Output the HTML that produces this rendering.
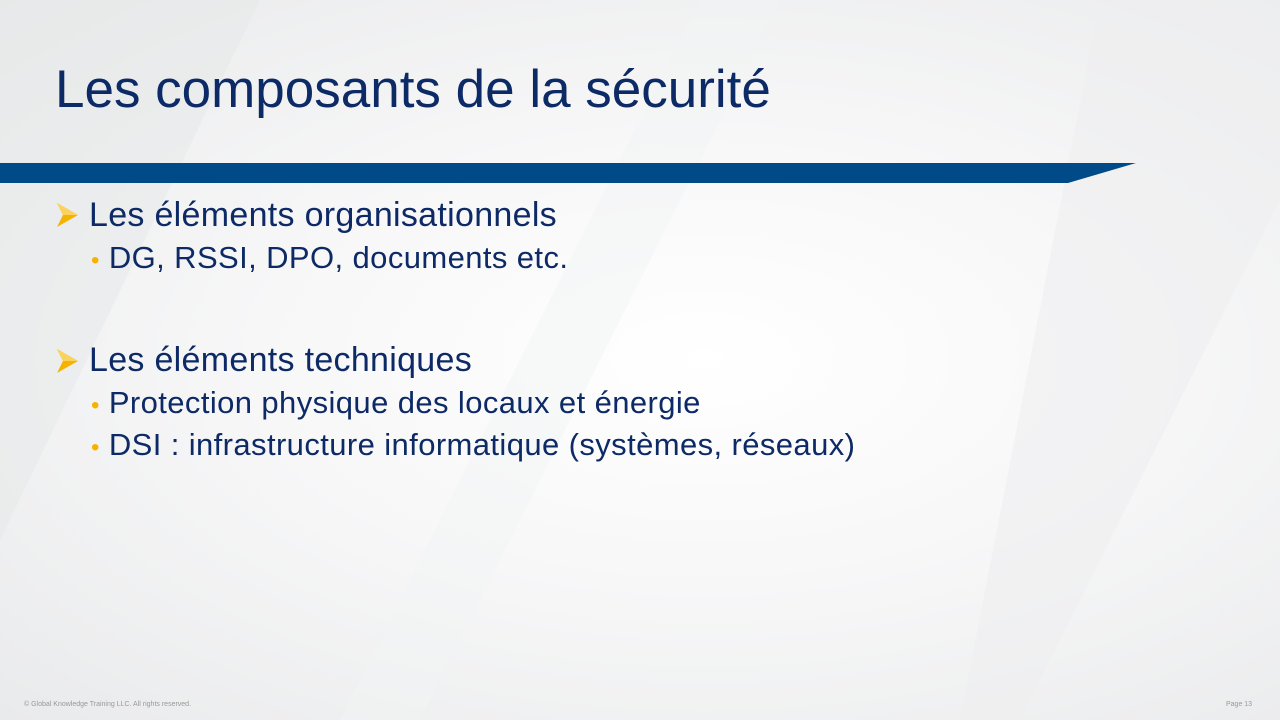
<!DOCTYPE html>
<html><head><meta charset="utf-8"><style>
html,body{margin:0;padding:0}
body{width:1280px;height:720px;position:relative;overflow:hidden;font-family:"Liberation Sans",Arial,sans-serif;
background:radial-gradient(ellipse at 55% 50%,#ffffff 0%,#f7f7f8 45%,#e9eaeb 100%);}
.t{position:absolute;white-space:nowrap;color:#0d2a66}
.l2{font-size:31px;letter-spacing:0.4px}
.l1{font-size:34px;letter-spacing:0.3px}
</style></head><body>
<svg style="position:absolute;left:0;top:0" width="1280" height="720">
<polygon points="0,0 260,0 0,540" fill="#e6e7e8" opacity="0.5"/>
<polygon points="1100,0 1280,0 1280,200 1020,720 960,720" fill="#eeeff0" opacity="0.6"/>
<polygon points="700,0 780,0 420,720 340,720" fill="#f2f3f4" opacity="0.5"/>
</svg>
<div class="t" style="left:55px;top:59px;font-size:53px;color:#0c2a66">Les composants de la sécurité</div>
<svg style="position:absolute;left:0;top:163px" width="1140" height="20">
<polygon points="0,0 1136,0 1068,20 0,20" fill="#004b87"/>
</svg>
<svg style="position:absolute;left:57px;top:203px" width="22" height="24"><polygon points="0,0 21,12 0,24 6,12" fill="#f5b300"/><polygon points="0,0 21,12 6,12" fill="#fbd35c"/></svg>
<div class="t l1" style="left:89px;top:196px">Les éléments organisationnels</div>
<div class="t l2" style="left:91px;top:240px"><span style="color:#f5b300;font-size:24px">•</span> DG, RSSI, DPO, documents etc.</div>
<svg style="position:absolute;left:57px;top:349px" width="22" height="24"><polygon points="0,0 21,12 0,24 6,12" fill="#f5b300"/><polygon points="0,0 21,12 6,12" fill="#fbd35c"/></svg>
<div class="t l1" style="left:89px;top:341px">Les éléments techniques</div>
<div class="t l2" style="left:91px;top:385px"><span style="color:#f5b300;font-size:24px">•</span> Protection physique des locaux et énergie</div>
<div class="t l2" style="left:91px;top:427px"><span style="color:#f5b300;font-size:24px">•</span> DSI : infrastructure informatique (systèmes, réseaux)</div>
<div class="t" style="left:24px;top:701px;font-size:7px;color:#999">© Global Knowledge  Training LLC. All rights reserved.</div>
<div class="t" style="left:1226px;top:701px;font-size:7px;color:#999">Page  13</div>
</body></html>
